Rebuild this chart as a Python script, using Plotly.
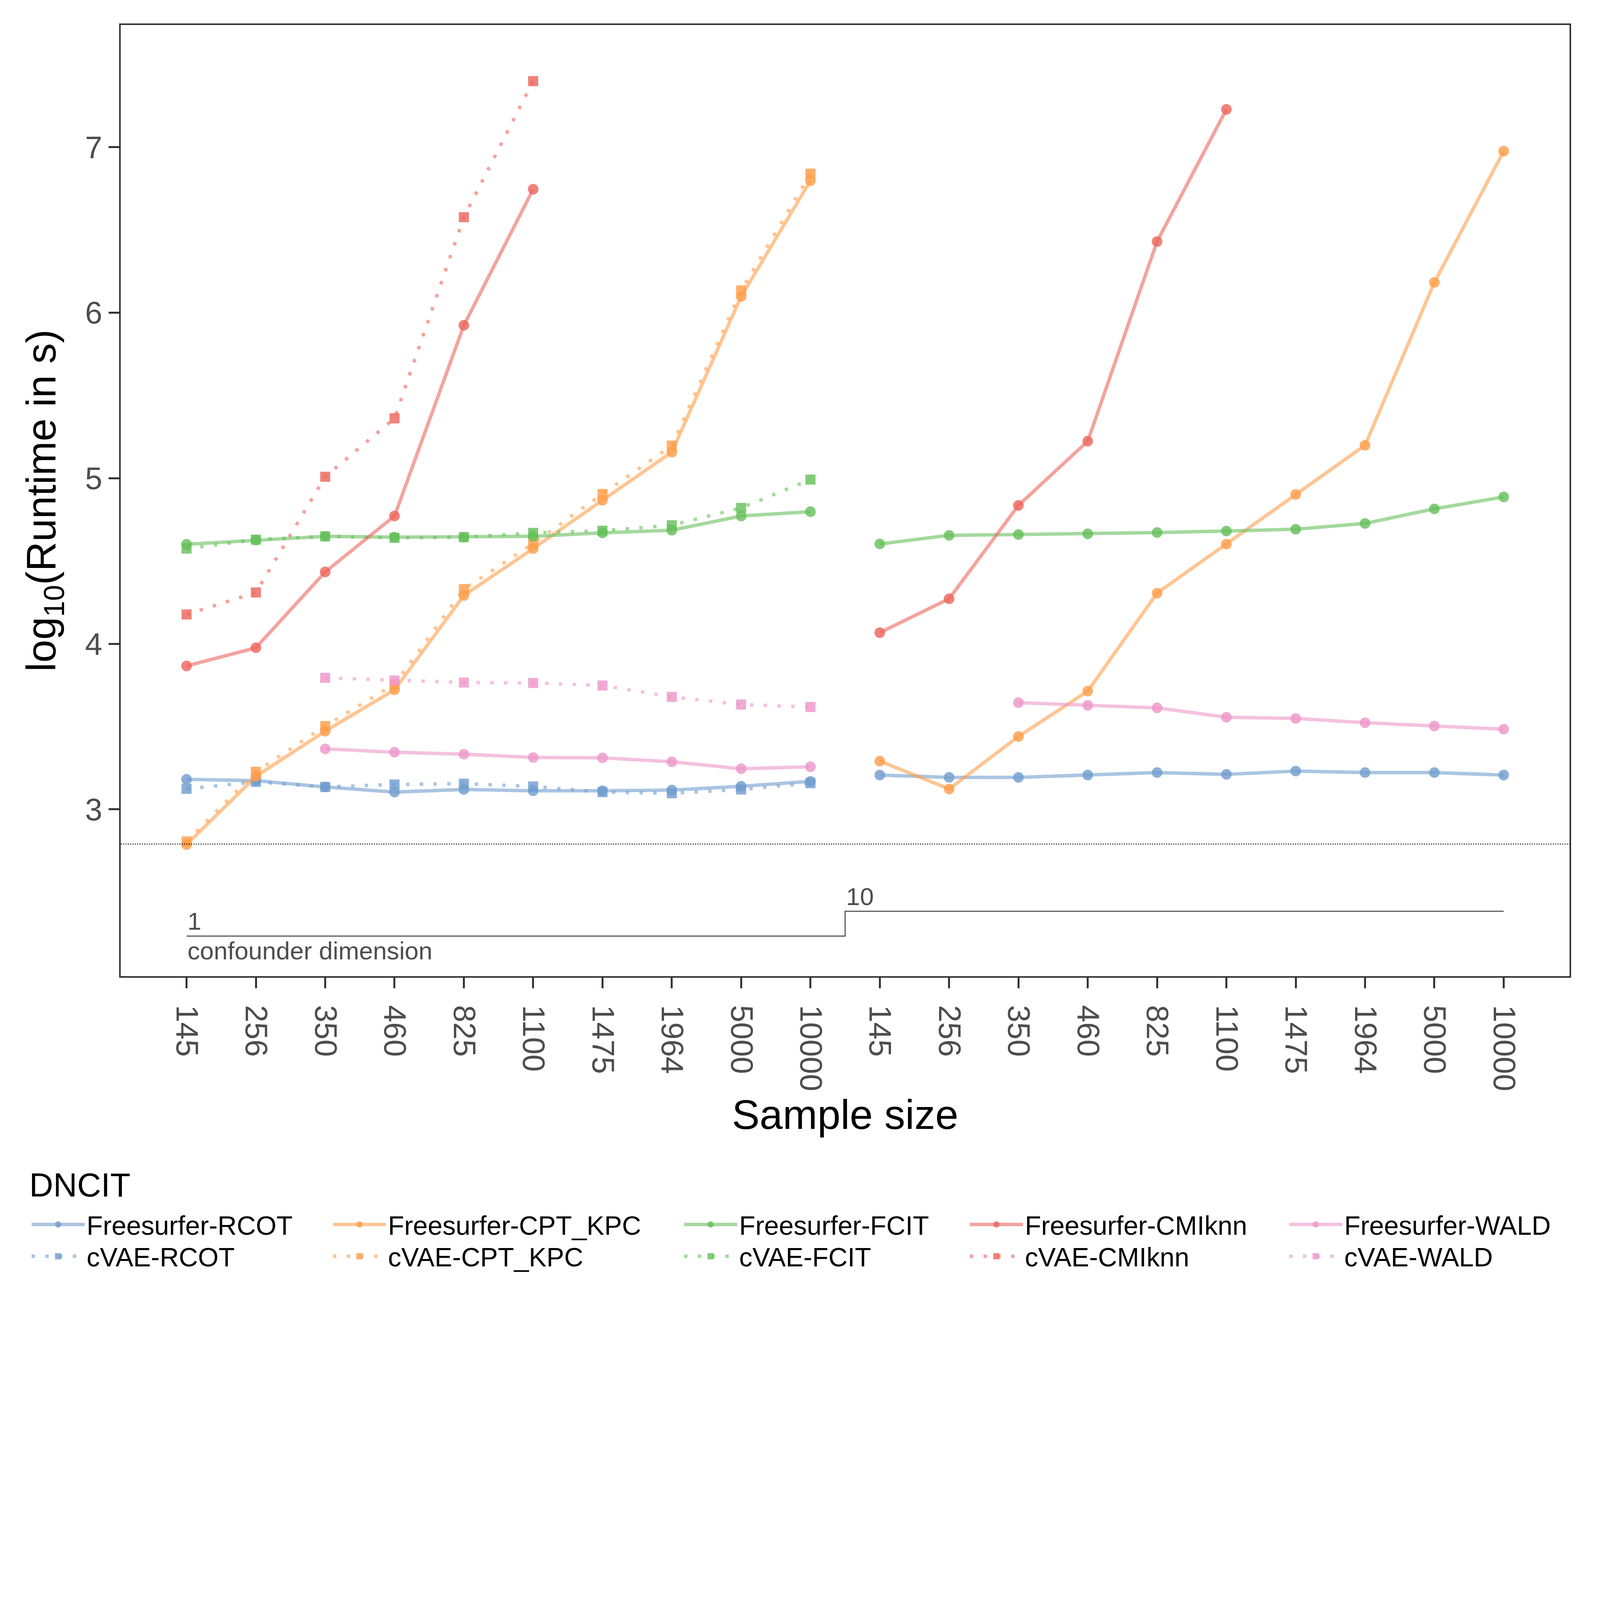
import plotly.graph_objects as go

# ---------------- data ----------------
sample_sizes = [145, 256, 350, 460, 825, 1100, 1475, 1964, 5000, 10000]
confounder_dims = [1, 10]
methods = ["RCOT", "CPT_KPC", "FCIT", "CMIknn", "WALD"]

# Freesurfer: 10 values for confounder dim 1 followed by 10 values for dim 10
freesurfer_rcot = [3.181, 3.173, 3.135, 3.104, 3.120, 3.112, 3.112, 3.116, 3.139, 3.169,
                   3.207, 3.193, 3.193, 3.207, 3.222, 3.211, 3.231, 3.222, 3.222, 3.207]
freesurfer_cpt_kpc = [2.787, 3.199, 3.472, 3.722, 4.292, 4.575, 4.867, 5.158, 6.098, 6.798,
                      3.291, 3.123, 3.440, 3.714, 4.306, 4.602, 4.902, 5.199, 6.183, 6.976]
freesurfer_fcit = [4.601, 4.626, 4.649, 4.644, 4.644, 4.649, 4.670, 4.686, 4.772, 4.798,
                   4.603, 4.655, 4.660, 4.664, 4.672, 4.681, 4.692, 4.727, 4.815, 4.887]
freesurfer_cmiknn = [3.866, 3.976, 4.434, 4.772, 5.924, 6.746, None, None, None, None,
                     4.067, 4.272, 4.836, 5.224, 6.430, 7.228, None, None, None, None]
freesurfer_wald = [None, None, 3.365, 3.345, 3.333, 3.313, 3.311, 3.287, 3.245, 3.257,
                   None, None, 3.644, 3.628, 3.613, 3.556, 3.549, 3.523, 3.503, 3.484]

# cVAE: only confounder dim 1
cvae_rcot = [3.124, 3.166, 3.135, 3.150, 3.155, 3.138, 3.104, 3.097, 3.120, 3.158]
cvae_cpt_kpc = [2.806, 3.227, 3.503, 3.755, 4.330, 4.606, 4.905, 5.197, 6.135, 6.840]
cvae_fcit = [4.575, 4.629, 4.649, 4.640, 4.644, 4.670, 4.683, 4.716, 4.821, 4.992]
cvae_cmiknn = [4.177, 4.310, 5.009, 5.362, 6.577, 7.399, None, None, None, None]
cvae_wald = [None, None, 3.794, 3.778, 3.766, 3.763, 3.748, 3.679, 3.633, 3.618]

runtime_reference = 2.79          # dotted horizontal reference line
dim_label_levels = [2.234, 2.384]  # y level of the confounder-dimension step line

# ---------------- styling ----------------
rgb = {
    "RCOT": (114, 158, 206),
    "CPT_KPC": (255, 158, 74),
    "FCIT": (103, 191, 92),
    "CMIknn": (237, 102, 93),
    "WALD": (237, 151, 202),
}
FONT = "Liberation Sans, Arial, Helvetica, sans-serif"

# design grid is 6000 x 4800; the figure is scaled so it fits the browser viewport
REF_W, REF_H = 6000, 4800
S = 0.678
W, H = round(REF_W * S), round(REF_H * S)
ML, MR, MT, MB = 444, 85, 83, 1126          # in design units
PW, PH = REF_W - ML - MR, REF_H - MT - MB

def sz(v):
    return v * S

def px_x(p):
    return (p - ML) / PW

def px_y(p):
    return (REF_H - MB - p) / PH

n = len(sample_sizes)

def build_xy(vals):
    xs, ys = [], []
    groups = len(vals) // n
    for g in range(groups):
        for i in range(n):
            xs.append(g * n + i + 1)
            ys.append(vals[g * n + i])
        xs.append(None)
        ys.append(None)
    return xs, ys

freesurfer = {"RCOT": freesurfer_rcot, "CPT_KPC": freesurfer_cpt_kpc, "FCIT": freesurfer_fcit,
              "CMIknn": freesurfer_cmiknn, "WALD": freesurfer_wald}
cvae = {"RCOT": cvae_rcot, "CPT_KPC": cvae_cpt_kpc, "FCIT": cvae_fcit,
        "CMIknn": cvae_cmiknn, "WALD": cvae_wald}

fig = go.Figure()

legend_left = [100, 1238, 2564, 3643, 4849]   # design units
legend_row_y = [4612, 4732]
ITEMW = 200
legend_defs = {}

lw = sz(13)
for k, m in enumerate(methods):
    r, g, b = rgb[m]
    line_c = f"rgba({r},{g},{b},0.6)"
    mark_c = f"rgba({r},{g},{b},0.82)"
    for row, (src, vals) in enumerate([("Freesurfer", freesurfer[m]), ("cVAE", cvae[m])]):
        xs, ys = build_xy(vals)
        lname = "legend" if (k == 0 and row == 0) else f"legend{k * 2 + row + 1}"
        fig.add_trace(go.Scatter(
            x=xs, y=ys, mode="lines+markers", name=f"{src}-{m}",
            line=dict(color=line_c, width=lw,
                      dash="solid" if src == "Freesurfer" else f"{lw:.1f}px,{3 * lw:.1f}px"),
            marker=dict(color=mark_c, size=sz(40) if src == "Freesurfer" else sz(38),
                        symbol="circle" if src == "Freesurfer" else "square",
                        line=dict(width=0)),
            connectgaps=False,
            legend=lname,
        ))
        legend_defs[lname] = dict(
            x=px_x(legend_left[k]), xref="paper",
            y=px_y(legend_row_y[row]), yref="paper",
            xanchor="left", yanchor="middle",
            orientation="v", itemwidth=round(sz(ITEMW)),
            font=dict(family=FONT, size=sz(100), color="black"),
            bgcolor="rgba(0,0,0,0)", borderwidth=0,
            itemsizing="trace",
        )

step_x = [1, n + 0.5, 2 * n]
step_y = [dim_label_levels[0], dim_label_levels[1], dim_label_levels[1]]
fig.add_trace(go.Scatter(x=step_x, y=step_y, mode="lines", line_shape="hv",
                         line=dict(color="#4d4d4d", width=sz(4)), showlegend=False,
                         hoverinfo="skip"))

ann_font = dict(family=FONT, size=sz(94), color="#4d4d4d")
annotations = [
    dict(x=1, y=dim_label_levels[0], xref="x", yref="y", text=str(confounder_dims[0]),
         showarrow=False, xanchor="left", yanchor="bottom", font=ann_font),
    dict(x=n + 0.5, y=dim_label_levels[1], xref="x", yref="y", text=str(confounder_dims[1]),
         showarrow=False, xanchor="left", yanchor="bottom", font=ann_font),
    dict(x=1, y=dim_label_levels[0], xref="x", yref="y", text="confounder dimension",
         showarrow=False, xanchor="left", yanchor="top", font=ann_font),
    dict(x=px_x(96), y=px_y(4462), xref="paper", yref="paper", text="DNCIT",
         showarrow=False, xanchor="left", yanchor="middle",
         font=dict(family=FONT, size=sz(125), color="black")),
]

fig.add_shape(type="line", xref="paper", x0=0, x1=1, yref="y",
              y0=runtime_reference, y1=runtime_reference,
              line=dict(color="black", width=sz(3), dash="dot"))

tick_text = [str(s) for _ in confounder_dims for s in sample_sizes]

layout = dict(
    width=W, height=H,
    margin=dict(l=sz(ML), r=sz(MR), t=sz(MT), b=sz(MB), autoexpand=False),
    paper_bgcolor="white", plot_bgcolor="white",
    font=dict(family=FONT, color="black"),
    xaxis=dict(range=[0.05, 2 * n + 0.95], tickmode="array",
               tickvals=list(range(1, 2 * n + 1)), ticktext=tick_text,
               tickangle=90, ticks="outside", ticklen=sz(40), tickwidth=sz(7),
               tickcolor="#333333", ticklabelstandoff=round(sz(40)),
               tickfont=dict(family=FONT, size=sz(117), color="#4d4d4d"),
               showline=True, linecolor="#333333", linewidth=sz(6), mirror=True,
               showgrid=False, zeroline=False,
               title=dict(text="Sample size", standoff=sz(15),
                          font=dict(family=FONT, size=sz(157), color="black"))),
    yaxis=dict(range=[1.992, 7.738], tickmode="array", tickvals=[3, 4, 5, 6, 7],
               ticks="outside", ticklen=sz(40), tickwidth=sz(7), tickcolor="#333333",
               tickfont=dict(family=FONT, size=sz(117), color="#4d4d4d"),
               showline=True, linecolor="#333333", linewidth=sz(6), mirror=True,
               showgrid=False, zeroline=False,
               title=dict(text="log<sub>10</sub>(Runtime in s)", standoff=sz(60),
                          font=dict(family=FONT, size=sz(155), color="black"))),
    annotations=annotations,
    showlegend=True,
)
layout.update(legend_defs)
fig.update_layout(**layout)

fig.write_html("out.html")
